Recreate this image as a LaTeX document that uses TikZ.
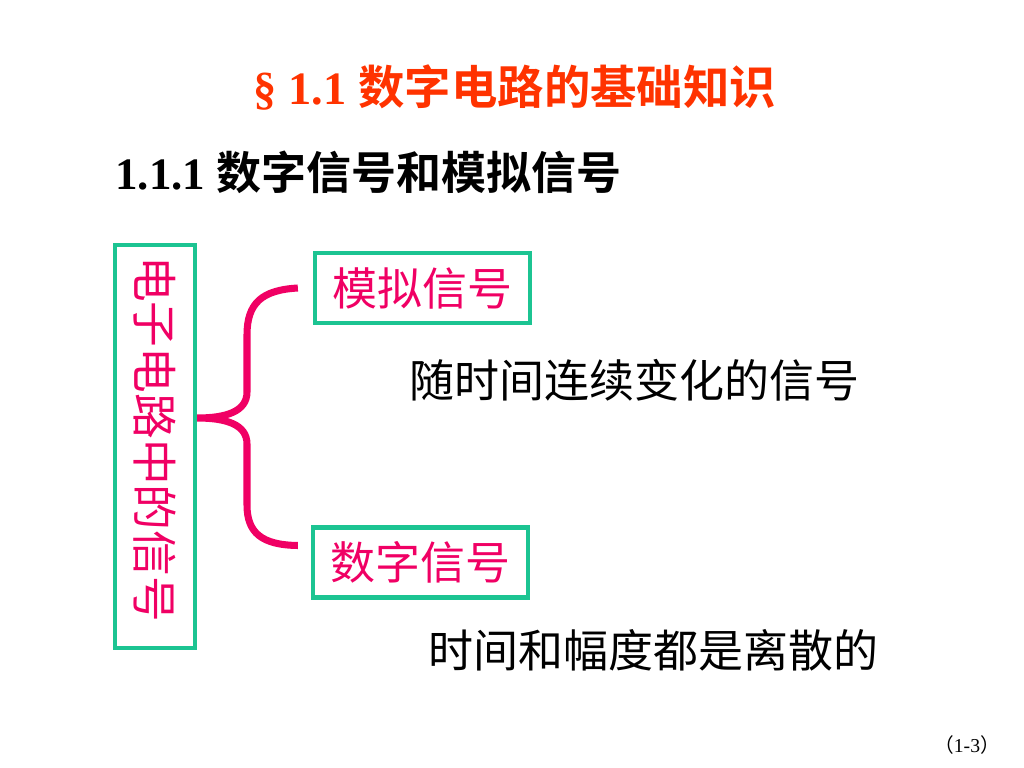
\documentclass[tikz,border=0pt]{standalone}
\usepackage{fontspec}
\setmainfont{Liberation Serif}
\newfontfamily\cjk{Noto Sans CJK SC}[BoldFont={Noto Sans CJK SC Bold}]
\usepackage{xcolor}
\usetikzlibrary{positioning,calc}
\definecolor{titlered}{HTML}{FF3300}
\definecolor{sigpink}{HTML}{F00064}
\definecolor{boxgreen}{HTML}{1CC492}
\tikzset{
  titletext/.style={font=\fontsize{33}{38}\selectfont\bfseries, text=titlered,
    inner sep=0pt},
  headtext/.style={font=\fontsize{32}{36}\selectfont\bfseries, text=black,
    inner sep=0pt},
  sigbox/.style={rectangle, draw=boxgreen, line width=3pt,
    text=sigpink, font=\fontsize{32}{36}\selectfont\cjk,
    inner sep=0pt, align=center},
  desctext/.style={font=\fontsize{32}{36}\selectfont\cjk, text=black,
    inner sep=0pt},
  bracepath/.style={draw=sigpink, line width=5pt},
}
\begin{document}
\begin{tikzpicture}[x=0.025cm, y=-0.025cm]
  \useasboundingbox (0,0) rectangle (1024,768);
  \node[titletext] (title) at (515,88) {§ 1.1 {\cjk 数字电路的基础知识}};
  \node[headtext, anchor=west] (sub) at (115,172) {1.1.1 {\cjk 数字信号和模拟信号}};
  \node[sigbox, minimum width=2cm, minimum height=10.075cm] (signals) at (155,446.5) {};
  \node[text=sigpink, font=\fontsize{32.5}{36}\selectfont\cjk, rotate=-90, inner sep=0pt] (signame) at (155,439) {电子电路中的信号};
  \node[sigbox, minimum width=5.375cm, minimum height=1.75cm] (analog) at (422.5,288) {模拟信号};
  \node[sigbox, minimum width=5.375cm, minimum height=1.75cm] (digital) at (420.5,562.5) {数字信号};
  \node[desctext] (analogdesc) at (634,380) {随时间连续变化的信号};
  \node[desctext] (digitaldesc) at (653,650) {时间和幅度都是离散的};
  \node[font=\fontsize{14}{16}\selectfont, inner sep=0pt] (page) at (967,745) {{\cjk （}1-3{\cjk ）}};
  % brace from the box to the two kinds
  \coordinate (tip) at (signals.east |- 0,418);
  \coordinate (btop) at ([xshift=-0.375cm]analog.west);
  \coordinate (bbot) at ($(digital.west)+(-13,-17)$);
  \draw[bracepath] (btop) .. controls (262,290) and (247,303) .. (247,335)
    -- (247,392) .. controls (247,412) and (225,418) .. (tip)
    .. controls (225,418) and (247,424) .. (247,444)
    -- (247,505) .. controls (247,533) and (262,545) .. (bbot);
\end{tikzpicture}
\end{document}
